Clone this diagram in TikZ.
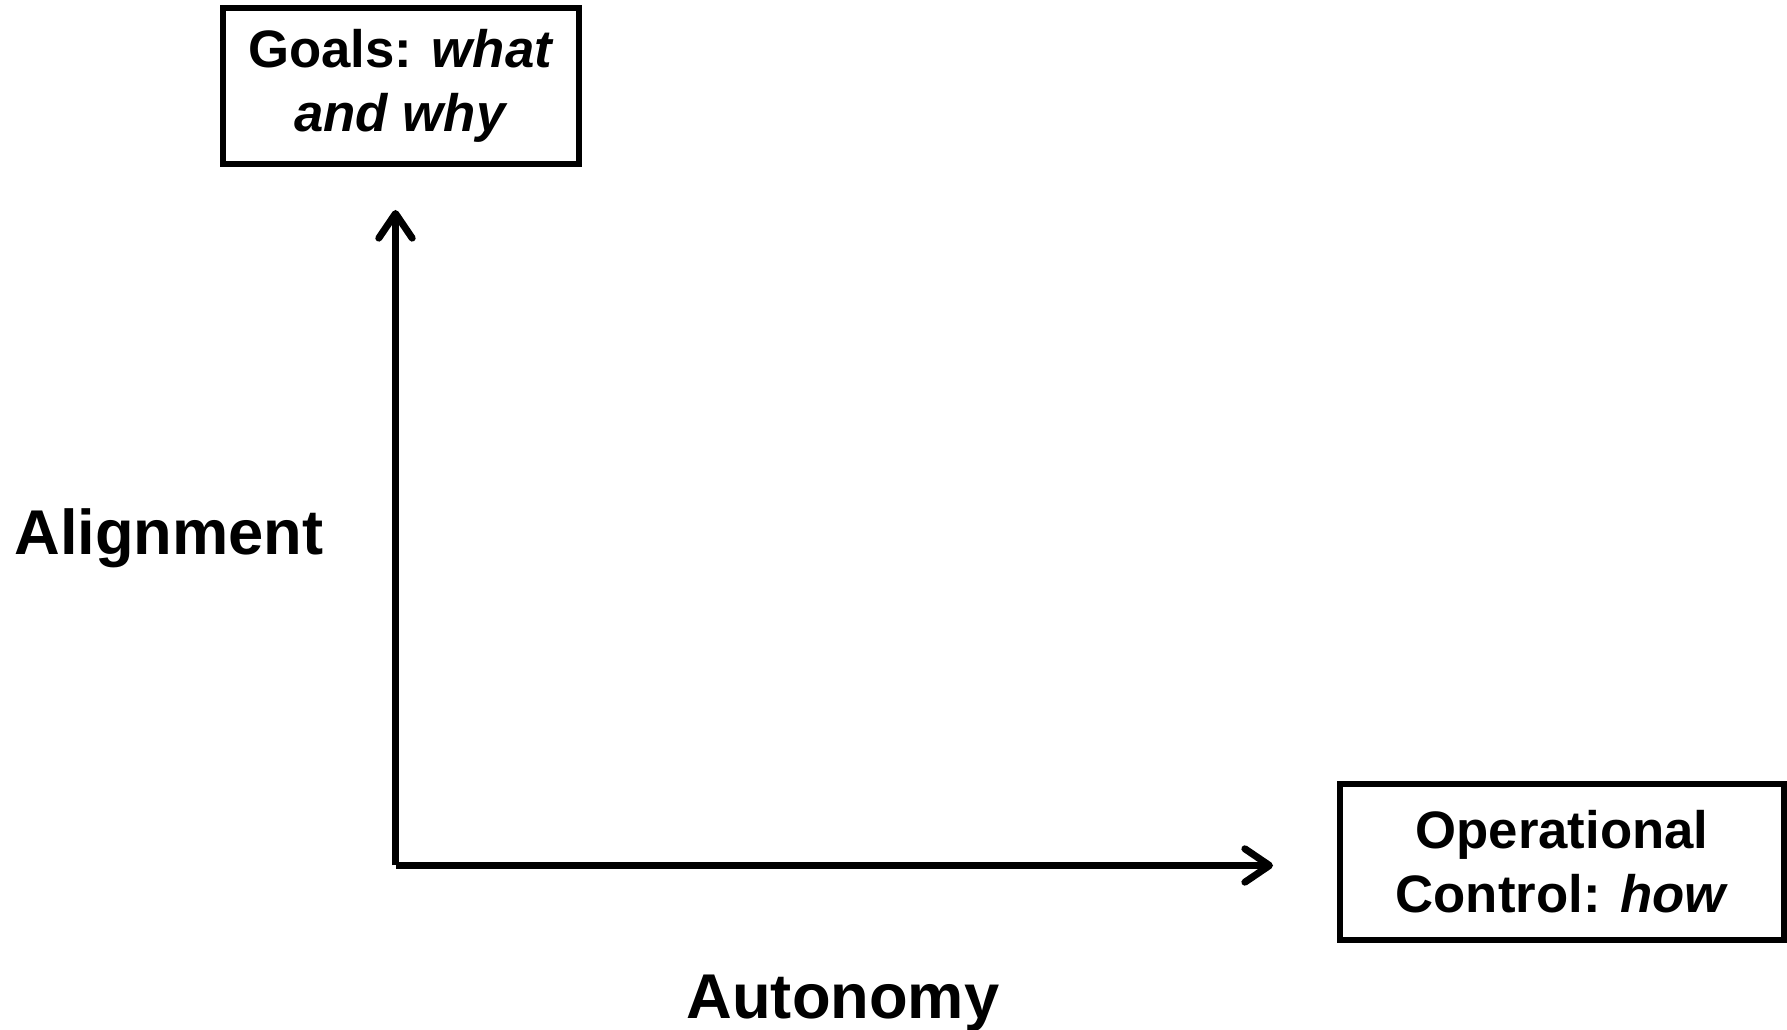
\documentclass[tikz,border=0pt]{standalone}
\usepackage{fontspec}
\setmainfont{Liberation Sans}
\usepackage{tikz}
\usetikzlibrary{arrows.meta}

\begin{document}
\begin{tikzpicture}[x=0.1mm,y=-0.1mm,
    axis/.style={line width=2pt,
        -{Straight Barb[length=7pt,width=9.5pt,line cap=round,line join=round]}},
    pole/.style={draw, line width=1.7pt, align=center, inner sep=0pt,
        font=\fontsize{15}{18.2}\selectfont\bfseries},
    axislabel/.style={anchor=base, inner sep=0pt,
        font=\fontsize{18}{21}\selectfont\bfseries}]
    \useasboundingbox (0,0) rectangle (1787,1030);
    \node[pole, minimum width=356*0.1mm, minimum height=156*0.1mm] (goals) at (401,86)
        {Goals: \textit{what}\\\textit{and why}};
    \node[pole, minimum width=444*0.1mm, minimum height=156*0.1mm] (control) at (1562,862)
        {Operational\\Control: \textit{how}};
    \coordinate (origin) at (395.5,865.5);
    \coordinate (ytip) at (395.5,210);
    \coordinate (xtip) at (1273,865.5);
    \draw[axis] (origin) -- (ytip);
    \draw[axis] (origin) -- (xtip);
    \node[axislabel] (alignment) at (169,555) {Alignment};
    \node[axislabel] (autonomy) at (843,1018) {Autonomy};
\end{tikzpicture}
\end{document}
